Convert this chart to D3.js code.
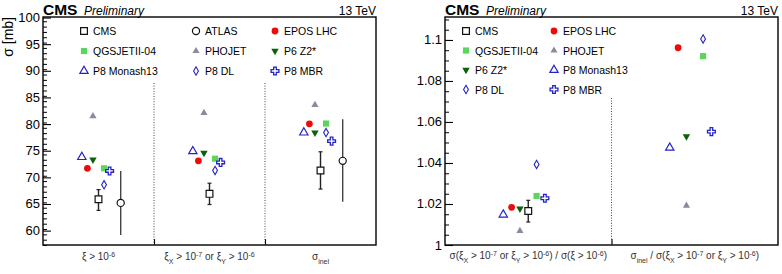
<!DOCTYPE html>
<html>
<head>
<meta charset="utf-8">
<script src="https://cdn.jsdelivr.net/npm/d3@7"></script>
<style>
  body { margin: 0; background: #fff; }
  svg { font-family: "Liberation Sans", Arial, sans-serif; }
</style>
</head>
<body>
<div id="chart"></div>
<script>
// ---- data ----
let leftCats = ["xi6", "xiXY", "inel"];
let rightCats = ["ratio1", "ratio2"];

let leftTicks = [60, 65, 70, 75, 80, 85, 90, 95, 100];
let rightTicks = [1, 1.02, 1.04, 1.06, 1.08, 1.1];

// left panel: cross sections in mb
let cmsLeft = [65.9, 66.9, 71.3];
let cmsLeftHi = [67.7, 68.9, 74.8];
let cmsLeftLo = [63.8, 64.9, 67.8];
let atlasLeft = [65.2, null, 73.1];
let atlasLeftHi = [71.2, null, 80.9];
let atlasLeftLo = [59.2, null, 65.4];
let eposLeft = [71.7, 73.1, 80.05];
let qgsLeft = [71.7, 73.5, 80.1];
let phojetLeft = [81.5, 82.1, 83.6];
let p6Left = [73.3, 74.6, 78.4];
let monashLeft = [73.8, 74.9, 78.4];
let dlLeft = [68.6, 71.3, 78.4];
let mbrLeft = [71.2, 72.8, 76.8];

// right panel: ratios
let cmsRight = [1.0166, null];
let cmsRightHi = [1.0218, null];
let cmsRightLo = [1.0112, null];
let eposRight = [1.0184, 1.0962];
let qgsRight = [1.0239, 1.0921];
let phojetRight = [1.0069, 1.0192];
let p6Right = [1.0177, 1.0530];
let monashRight = [1.0148, 1.0474];
let dlRight = [1.0393, 1.1005];
let mbrRight = [1.0228, 1.0553];

// small horizontal shift of each series inside a category (ROOT style offsets)
let slotOf = {CMS: 0, ATLAS: 4, EPOS: -2, QGS: 1, PHOJET: -1, P6: -1, Monash: -3, DL: 1, MBR: 2};

// ---- styles ----
let blue = "#2323c8";
let styles = {
  CMS:    {name: "CMS",         shape: d3.symbolSquare,   size: 46, fill: "#fff",    stroke: "#111", sw: 1.2},
  ATLAS:  {name: "ATLAS",       shape: d3.symbolCircle,   size: 40, fill: "#fff",    stroke: "#111", sw: 1.2},
  EPOS:   {name: "EPOS LHC",    shape: d3.symbolCircle,   size: 36, fill: "#ee0a0a", stroke: "none", sw: 0},
  QGS:    {name: "QGSJETII-04", shape: d3.symbolSquare,   size: 38, fill: "#5ad65a", stroke: "none", sw: 0},
  PHOJET: {name: "PHOJET",      shape: d3.symbolTriangle, size: 22, fill: "#8a8a9c", stroke: "none", sw: 0},
  P6:     {name: "P6 Z2*",      shape: d3.symbolTriangle, size: 24, fill: "#0b620b", stroke: "none", sw: 0, flip: true},
  Monash: {name: "P8 Monash13", shape: d3.symbolTriangle, size: 30, fill: "#fff",    stroke: blue,   sw: 1.2},
  DL:     {name: "P8 DL",       shape: d3.symbolDiamond,  size: 20, fill: "#fff",    stroke: blue,   sw: 1.1},
  MBR:    {name: "P8 MBR",      shape: d3.symbolCross,    size: 34, fill: "#fff",    stroke: blue,   sw: 1.3}
};

let W = 782, H = 274;
let svg = d3.select("#chart").append("svg")
    .attr("width", W)
    .attr("height", H);

function drawMarker(g, key, x, y) {
  let s = styles[key];
  g.append("path")
      .attr("d", d3.symbol().type(s.shape).size(s.size)())
      .attr("transform", "translate(" + x + "," + y + ")" + (s.flip ? " rotate(180)" : ""))
      .attr("fill", s.fill)
      .attr("stroke", s.stroke)
      .attr("stroke-width", s.sw);
}

function drawPanel(opt) {
  let g = svg.append("g");
  let x = d3.scaleLinear().domain([0, opt.cats.length]).range([opt.x0, opt.x1]);
  let y = d3.scaleLinear().domain(opt.domain).range([opt.bottom, opt.top]);
  let slotW = 0.05; // one offset step, in category units

  // frame
  g.append("rect")
      .attr("x", opt.x0).attr("y", opt.top)
      .attr("width", opt.x1 - opt.x0).attr("height", opt.bottom - opt.top)
      .attr("fill", "none").attr("stroke", "#000").attr("stroke-width", 1.4);

  // y axis: major + minor ticks pointing inward
  let yAxis = d3.axisRight(y).tickValues(opt.ticks).tickSize(8).tickFormat("");
  g.append("g").attr("transform", "translate(" + opt.x0 + ",0)").call(yAxis)
      .call(a => a.select(".domain").remove())
      .selectAll("line").attr("stroke", "#000").attr("stroke-width", 1.1);
  let minor = d3.range(opt.domain[0], opt.domain[1], opt.minorStep)
      .map(v => +v.toFixed(4));
  let yMinor = d3.axisRight(y).tickValues(minor).tickSize(4).tickFormat("");
  g.append("g").attr("transform", "translate(" + opt.x0 + ",0)").call(yMinor)
      .call(a => a.select(".domain").remove())
      .selectAll("line").attr("stroke", "#000").attr("stroke-width", 1);

  // tick labels
  g.selectAll(".ylab").data(opt.ticks).enter().append("text")
      .attr("x", opt.x0 - 3)
      .attr("y", d => y(d) + 4.5)
      .attr("text-anchor", "end")
      .attr("font-size", 13)
      .text(opt.fmt);

  // bottom ticks at category borders + dotted dividers
  let borders = d3.range(1, opt.cats.length);
  let xAxis = d3.axisTop(x).tickValues(borders).tickSize(6).tickFormat("");
  g.append("g").attr("transform", "translate(0," + opt.bottom + ")").call(xAxis)
      .call(a => a.select(".domain").remove())
      .selectAll("line").attr("stroke", "#000").attr("stroke-width", 1.1);
  g.selectAll(".div").data(borders).enter().append("line")
      .attr("x1", d => x(d)).attr("x2", d => x(d))
      .attr("y1", opt.divTop).attr("y2", opt.bottom)
      .attr("stroke", "#444").attr("stroke-width", 1)
      .attr("stroke-dasharray", "1,1.6");

  // header
  g.append("text").attr("x", opt.x0).attr("y", 15)
      .attr("font-size", 15.5).attr("font-weight", "bold").text("CMS");
  g.append("text").attr("x", opt.x0 + 41).attr("y", 15)
      .attr("font-size", 12).attr("font-style", "italic").text("Preliminary");
  g.append("text").attr("x", opt.x1).attr("y", 15)
      .attr("font-size", 12).attr("text-anchor", "end").text("13 TeV");

  // error bars
  opt.errors.forEach(function(e) {
    e.vals.forEach(function(v, i) {
      if (v == null) return;
      let cx = x(i + 0.5 + slotOf[e.key] * slotW);
      g.append("line")
          .attr("x1", cx).attr("x2", cx)
          .attr("y1", y(e.hi[i])).attr("y2", y(e.lo[i]))
          .attr("stroke", e.color).attr("stroke-width", 1.4);
      if (e.cap) {
        [e.hi[i], e.lo[i]].forEach(function(c) {
          g.append("line")
              .attr("x1", cx - 2).attr("x2", cx + 2)
              .attr("y1", y(c)).attr("y2", y(c))
              .attr("stroke", e.color).attr("stroke-width", 1.2);
        });
      }
    });
  });

  // markers
  opt.series.forEach(function(s) {
    s.vals.forEach(function(v, i) {
      if (v == null) return;
      drawMarker(g, s.key, x(i + 0.5 + slotOf[s.key] * slotW), y(v));
    });
  });

  // legend
  opt.legend.forEach(function(row, r) {
    row.forEach(function(key, c) {
      if (!key) return;
      let lx = opt.legX[c], ly = opt.legY0 + r * opt.legDy;
      drawMarker(g, key, lx, ly);
      g.append("text").attr("x", lx + 9).attr("y", ly + 4)
          .attr("font-size", 10.5).text(styles[key].name);
    });
  });

  return {g: g, x: x};
}

// ---- left panel ----
let left = drawPanel({
  cats: leftCats, x0: 43, x1: 376, top: 17, bottom: 245,
  domain: [57.3, 100.1], ticks: leftTicks, minorStep: 1, fmt: d => d,
  divTop: 83,
  errors: [
    {key: "CMS", vals: cmsLeft, hi: cmsLeftHi, lo: cmsLeftLo, color: "#222", cap: true},
    {key: "ATLAS", vals: atlasLeft, hi: atlasLeftHi, lo: atlasLeftLo, color: "#444", cap: false}
  ],
  series: [
    {key: "PHOJET", vals: phojetLeft}, {key: "EPOS", vals: eposLeft},
    {key: "QGS", vals: qgsLeft}, {key: "P6", vals: p6Left},
    {key: "Monash", vals: monashLeft}, {key: "DL", vals: dlLeft},
    {key: "MBR", vals: mbrLeft}, {key: "CMS", vals: cmsLeft},
    {key: "ATLAS", vals: atlasLeft}
  ],
  legend: [["CMS", "ATLAS", "EPOS"], ["QGS", "PHOJET", "P6"], ["Monash", "DL", "MBR"]],
  legX: [84, 196, 275], legY0: 31, legDy: 20
});

// ---- right panel ----
let right = drawPanel({
  cats: rightCats, x0: 445, x1: 778, top: 17, bottom: 245,
  domain: [1, 1.1112], ticks: rightTicks, minorStep: 0.005,
  fmt: d => d === 1 ? "1" : d3.format(".2~f")(d),
  divTop: 98,
  errors: [
    {key: "CMS", vals: cmsRight, hi: cmsRightHi, lo: cmsRightLo, color: "#222", cap: true}
  ],
  series: [
    {key: "PHOJET", vals: phojetRight}, {key: "EPOS", vals: eposRight},
    {key: "QGS", vals: qgsRight}, {key: "P6", vals: p6Right},
    {key: "Monash", vals: monashRight}, {key: "DL", vals: dlRight},
    {key: "MBR", vals: mbrRight}, {key: "CMS", vals: cmsRight}
  ],
  legend: [["CMS", "EPOS"], ["QGS", "PHOJET"], ["P6", "Monash"], ["DL", "MBR"]],
  legX: [466, 554], legY0: 31, legDy: 19.5
});

// ---- y title ----
svg.append("text")
    .attr("transform", "translate(13,17) rotate(-90)")
    .attr("text-anchor", "end")
    .attr("font-size", 14)
    .text("σ [mb]");

// ---- x category labels with sub/superscripts ----
function richLabel(g, cx, cy, parts) {
  let t = g.append("text").attr("x", cx).attr("y", cy)
      .attr("text-anchor", "middle").attr("font-size", 10).attr("fill", "#333");
  parts.forEach(function(p) {
    let sp = t.append("tspan").text(p[0]);
    if (p[1] === "sup") sp.attr("baseline-shift", "super").attr("font-size", 7);
    if (p[1] === "sub") sp.attr("baseline-shift", "sub").attr("font-size", 7);
  });
}

let xiX = [["ξ"], ["X", "sub"], [" > 10"], ["-7", "sup"], [" or ξ"], ["Y", "sub"], [" > 10"], ["-6", "sup"]];
let leftLabels = [
  [["ξ > 10"], ["-6", "sup"]],
  xiX,
  [["σ"], ["inel", "sub"]]
];
let rightLabels = [
  [["σ(ξ"], ["X", "sub"], [" > 10"], ["-7", "sup"], [" or ξ"], ["Y", "sub"], [" > 10"], ["-6", "sup"],
   [") / σ(ξ > 10"], ["-6", "sup"], [")"]],
  [["σ"], ["inel", "sub"], [" / σ(ξ"], ["X", "sub"], [" > 10"], ["-7", "sup"], [" or ξ"], ["Y", "sub"],
   [" > 10"], ["-6", "sup"], [")"]]
];
leftLabels.forEach((p, i) => richLabel(left.g, left.x(i + 0.5), 260, p));
rightLabels.forEach((p, i) => richLabel(right.g, right.x(i + 0.5), 259, p));
</script>
</body>
</html>
